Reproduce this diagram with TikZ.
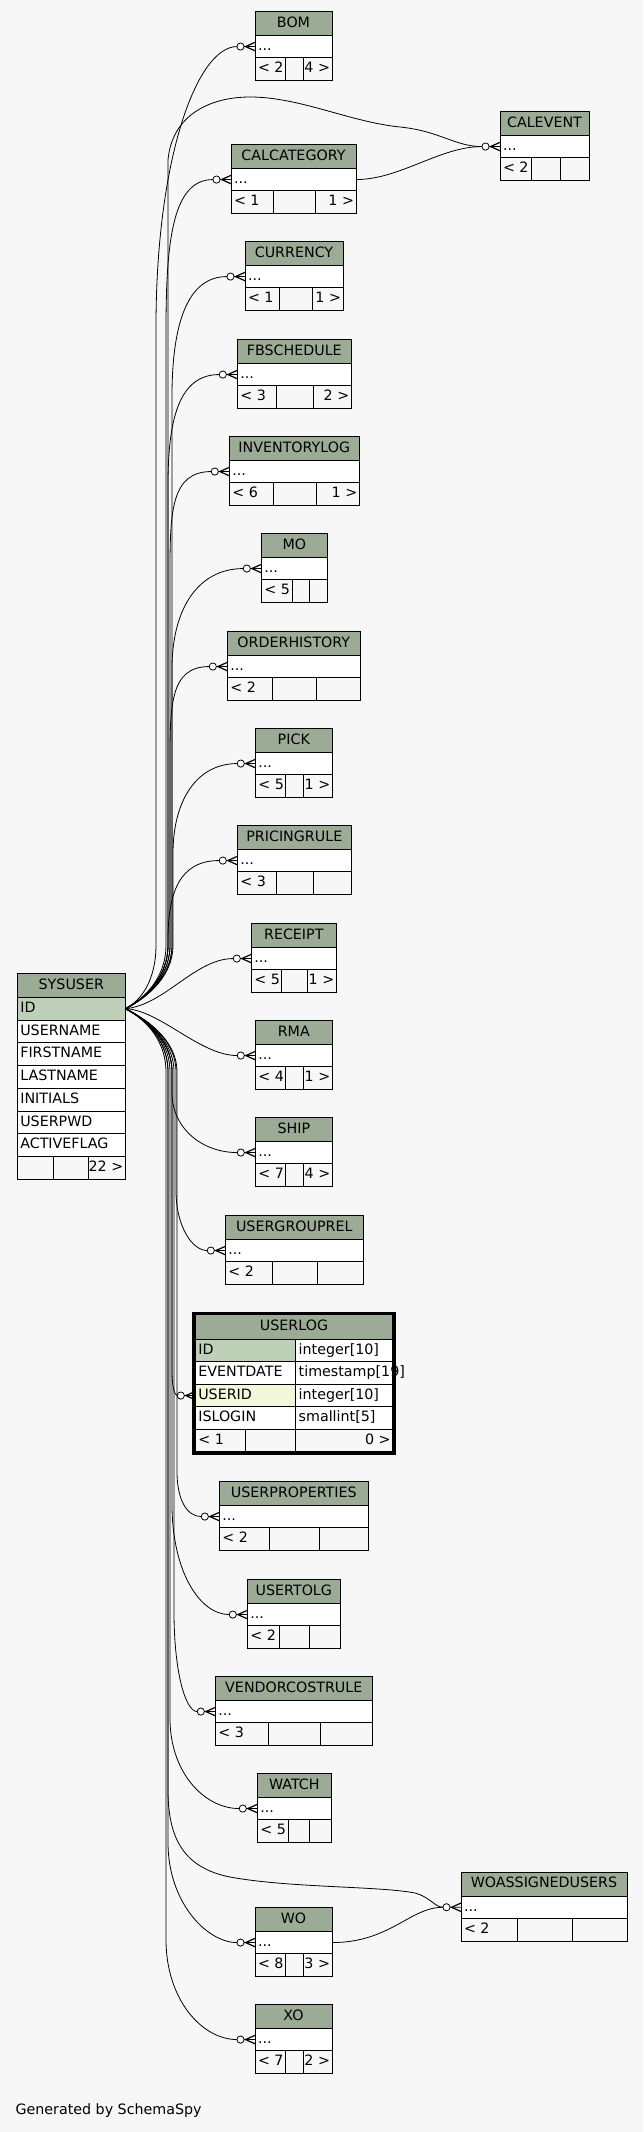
\documentclass[tikz,border=0pt]{standalone}
\usepackage{fontspec}
\setmainfont{DejaVu Sans}
\usetikzlibrary{calc}
\definecolor{bgc}{HTML}{F7F7F7}
\definecolor{hdrc}{HTML}{9BAB96}
\definecolor{pkc}{HTML}{BED1B8}
\definecolor{fkc}{HTML}{F4F7DA}

\newcommand\tbl[9]{%
  \pgfmathsetmacro\tw{#4-#2}%
  \node[cellbox, fill=hdrc, cb={\tw}{24}] (#1-h) at (#2,#3) {};
  \node[txt] at (#1-h.center) {#5};
  \node[cellbox, fill=white, cb={\tw}{22.5}] (#1-r) at (#1-h.south west) {};
  \node[txt, anchor=west] at ($(#1-r.west)+(3,0)$) {...};
  \node[cellbox, cb={\tw}{22.5}] (#1-f) at (#1-r.south west) {};
  \draw[divl] (#6,#3+46.5) -- (#6,#3+69) (#7,#3+46.5) -- (#7,#3+69);
  \node[txt, anchor=west] at ($(#1-f.west)+(3,0)$) {#8};
  \node[txt, anchor=east] at ($(#1-f.east)+(-2,0)$) {#9};
}
\newcommand\crowmark[1]{%
  \draw[line width=0.6pt, fill=white] ($(#1.west)+(-14.5,0)$) circle[radius=3.6];
  \draw[line width=0.9pt] ($(#1.west)+(0,-4.2)$) -- ($(#1.west)+(-9.5,0)$) -- ($(#1.west)+(0,4.2)$);
}
\newcommand\relup[5]{%
  \draw[rel] (sysuser-id.east) .. controls +(16,-8) and +(0,35) .. (#2,945) -- (#2,#3+#4)
    .. controls +(0,-0.6*#4) and +(-#5,0) .. ($(#1.west)+(-18,0)$) -- (#1.west);
  \crowmark{#1}%
}
\newcommand\reldn[5]{%
  \draw[rel] (sysuser-id.east) .. controls +(16,8) and +(0,-35) .. (#2,1072) -- (#2,#3-#4)
    .. controls +(0,0.6*#4) and +(-#5,0) .. ($(#1.west)+(-18,0)$) -- (#1.west);
  \crowmark{#1}%
}

\begin{document}
\begin{tikzpicture}[x=0.75pt,y=-0.75pt,
  txt/.style={font=\fontsize{10.7}{12}\selectfont, inner sep=0pt, outer sep=0pt, text height=7.8pt, text depth=0pt, yshift=1.1pt},
  cellbox/.style={draw=black, line width=0.7pt, anchor=north west, inner sep=0pt, outer sep=0pt},
  cb/.style 2 args={minimum width={#1*0.75pt}, minimum height={#2*0.75pt}},
  rel/.style={draw=black, line width=0.6pt},
  divl/.style={draw=black, line width=0.7pt}]
\useasboundingbox (0,0) rectangle (643,2132);
\fill[bgc] (0,0) rectangle (643,2132);

% SYSUSER
\node[cellbox, fill=hdrc, cb={108}{24}] (sysuser-h) at (17.3,973.3) {};
\node[txt] at (sysuser-h.center) {SYSUSER};
\node[cellbox, fill=pkc, cb={108}{22.75}] (sysuser-id) at (sysuser-h.south west) {};
\node[txt, anchor=west] at ($(sysuser-id.west)+(3,0)$) {ID};
\node[cellbox, fill=white, cb={108}{22.75}] (sysuser-username) at (sysuser-id.south west) {};
\node[txt, anchor=west] at ($(sysuser-username.west)+(3,0)$) {USERNAME};
\node[cellbox, fill=white, cb={108}{22.75}] (sysuser-firstname) at (sysuser-username.south west) {};
\node[txt, anchor=west] at ($(sysuser-firstname.west)+(3,0)$) {FIRSTNAME};
\node[cellbox, fill=white, cb={108}{22.75}] (sysuser-lastname) at (sysuser-firstname.south west) {};
\node[txt, anchor=west] at ($(sysuser-lastname.west)+(3,0)$) {LASTNAME};
\node[cellbox, fill=white, cb={108}{22.75}] (sysuser-initials) at (sysuser-lastname.south west) {};
\node[txt, anchor=west] at ($(sysuser-initials.west)+(3,0)$) {INITIALS};
\node[cellbox, fill=white, cb={108}{22.75}] (sysuser-userpwd) at (sysuser-initials.south west) {};
\node[txt, anchor=west] at ($(sysuser-userpwd.west)+(3,0)$) {USERPWD};
\node[cellbox, fill=white, cb={108}{22.75}] (sysuser-activeflag) at (sysuser-userpwd.south west) {};
\node[txt, anchor=west] at ($(sysuser-activeflag.west)+(3,0)$) {ACTIVEFLAG};
\node[cellbox, cb={108}{22.75}] (sysuser-f) at (sysuser-activeflag.south west) {};
\draw[divl] (53.3,1156.55) -- (53.3,1179.3) (88.7,1156.55) -- (88.7,1179.3);
\node[txt, anchor=east] at ($(sysuser-f.east)+(-2,0)$) {22 >};

% small tables
\tbl{bom}{255}{11.3}{332}{BOM}{285}{303}{< 2}{4 >}
\tbl{calevent}{500}{111.3}{589}{CALEVENT}{531}{560}{< 2}{}
\tbl{calcategory}{231}{144.3}{356}{CALCATEGORY}{273}{315}{< 1}{1 >}
\tbl{currency}{245}{241.3}{343}{CURRENCY}{279}{312}{< 1}{1 >}
\tbl{fbschedule}{237.3}{339.3}{351.3}{FBSCHEDULE}{276.7}{313.3}{< 3}{2 >}
\tbl{inventorylog}{229.3}{436.3}{359.3}{INVENTORYLOG}{273.3}{316.3}{< 6}{1 >}
\tbl{mo}{261.3}{533.3}{327.3}{MO}{292.3}{309.3}{< 5}{}
\tbl{orderhistory}{227.3}{631.3}{360.3}{ORDERHISTORY}{272.3}{316.3}{< 2}{}
\tbl{pick}{255.3}{728.3}{332.3}{PICK}{285.3}{303.3}{< 5}{1 >}
\tbl{pricingrule}{237.3}{825.3}{351.3}{PRICINGRULE}{276.7}{313.3}{< 3}{}
\tbl{receipt}{251.3}{923.3}{336.3}{RECEIPT}{281.3}{307.3}{< 5}{1 >}
\tbl{rma}{255.3}{1020.3}{332.3}{RMA}{285.7}{303.3}{< 4}{1 >}
\tbl{ship}{255.3}{1117.3}{332.3}{SHIP}{285.7}{303.3}{< 7}{4 >}
\tbl{usergrouprel}{225.3}{1215.3}{363.3}{USERGROUPREL}{272.3}{317.3}{< 2}{}
\tbl{userproperties}{219.3}{1481.3}{368.3}{USERPROPERTIES}{269.3}{319.3}{< 2}{}
\tbl{usertolg}{247.3}{1579.3}{340.3}{USERTOLG}{279.3}{309.3}{< 2}{}
\tbl{vendorcostrule}{215.3}{1676.3}{372.3}{VENDORCOSTRULE}{268.3}{320.3}{< 3}{}
\tbl{watch}{257.3}{1773.3}{331.3}{WATCH}{288}{309.5}{< 5}{}
\tbl{woassignedusers}{461}{1872}{627}{WOASSIGNEDUSERS}{517.4}{572.4}{< 2}{}
\tbl{wo}{255}{1907.3}{332}{WO}{285}{303}{< 8}{3 >}
\tbl{xo}{255}{2004.3}{332}{XO}{285}{303}{< 7}{2 >}

% USERLOG (focus table)
\node[cellbox, fill=hdrc, cb={197.4}{24.6}] (userlog-h) at (195.3,1314.7) {};
\node[txt] at (userlog-h.center) {USERLOG};
\node[cellbox, fill=pkc, cb={100.4}{22.5}] (userlog-id) at (userlog-h.south west) {};
\node[cellbox, fill=white, cb={97}{22.5}] (userlog-idt) at (userlog-id.north east) {};
\node[cellbox, fill=white, cb={100.4}{22.5}] (userlog-eventdate) at (userlog-id.south west) {};
\node[cellbox, fill=white, cb={97}{22.5}] (userlog-eventdatet) at (userlog-eventdate.north east) {};
\node[cellbox, fill=fkc, cb={100.4}{22.5}] (userlog-userid) at (userlog-eventdate.south west) {};
\node[cellbox, fill=white, cb={97}{22.5}] (userlog-useridt) at (userlog-userid.north east) {};
\node[cellbox, fill=white, cb={100.4}{22.5}] (userlog-islogin) at (userlog-userid.south west) {};
\node[cellbox, fill=white, cb={97}{22.5}] (userlog-islogint) at (userlog-islogin.north east) {};
\node[cellbox, cb={197.4}{22.5}] (userlog-f) at (userlog-islogin.south west) {};
\draw[divl] (245.7,1429.3) -- (245.7,1451.8) (295.7,1429.3) -- (295.7,1451.8);
\node[txt, anchor=west] at ($(userlog-id.west)+(3,0)$) {ID};
\node[txt, anchor=west] at ($(userlog-idt.west)+(3,0)$) {integer[10]};
\node[txt, anchor=west] at ($(userlog-eventdate.west)+(3,0)$) {EVENTDATE};
\node[txt, anchor=west] at ($(userlog-eventdatet.west)+(3,0)$) {timestamp[19]};
\node[txt, anchor=west] at ($(userlog-userid.west)+(3,0)$) {USERID};
\node[txt, anchor=west] at ($(userlog-useridt.west)+(3,0)$) {integer[10]};
\node[txt, anchor=west] at ($(userlog-islogin.west)+(3,0)$) {ISLOGIN};
\node[txt, anchor=west] at ($(userlog-islogint.west)+(3,0)$) {smallint[5]};
\node[txt, anchor=west] at ($(userlog-f.west)+(3,0)$) {< 1};
\node[txt, anchor=east] at ($(userlog-f.east)+(-2,0)$) {0 >};
\draw[line width=2.25pt] (193.5,1313.2) rectangle (394.2,1453);

% connectors going up
\relup{bom-r}{156}{46.55}{280}{40}
\relup{calcategory-r}{166}{179.55}{150}{40}
\relup{currency-r}{172}{276.55}{120}{40}
\relup{fbschedule-r}{168}{374.55}{110}{40}
\relup{inventorylog-r}{170}{471.55}{100}{40}
\relup{mo-r}{172}{568.55}{100}{45}
\relup{orderhistory-r}{170}{666.55}{100}{40}
\relup{pick-r}{173}{763.55}{90}{40}
\relup{pricingrule-r}{168}{860.55}{80}{40}
\draw[rel] (sysuser-id.east) .. controls (165,1005) and (195,958.55) .. ($(receipt-r.west)+(-18,0)$) -- (receipt-r.west);
\crowmark{receipt-r}
\draw[rel] (sysuser-id.east) .. controls (160,1010) and (200,1055.55) .. ($(rma-r.west)+(-18,0)$) -- (rma-r.west);
\crowmark{rma-r}
\draw[rel] (sysuser-id.east) .. controls +(16,-8) and +(0,35) .. (168,945) -- (168,160)
  .. controls (172,115) and (210,97) .. (250,97)
  .. controls (300,97) and (350,122) .. (400,127)
  .. controls (440,131) and (455,146.55) .. ($(calevent-r.west)+(-18,0)$) -- (calevent-r.west);
\draw[rel] (calcategory-r.east) .. controls (400,179.55) and (440,146.55) .. ($(calevent-r.west)+(-18,0)$);
\crowmark{calevent-r}

% connectors going down
\reldn{ship-r}{172}{1152.55}{60}{35}
\reldn{usergrouprel-r}{176}{1250.55}{60}{15}
\reldn{userlog-userid}{172}{1395.65}{25}{3}
\reldn{userproperties-r}{177}{1516.55}{45}{15}
\reldn{usertolg-r}{172}{1614.55}{110}{30}
\reldn{vendorcostrule-r}{174}{1711.55}{100}{12}
\reldn{watch-r}{170}{1808.55}{90}{35}
\reldn{wo-r}{168}{1942.55}{100}{30}
\reldn{xo-r}{166}{2039.55}{100}{35}
\draw[rel] (sysuser-id.east) .. controls +(16,8) and +(0,-35) .. (168,1072) -- (168,1790)
  .. controls (168,1840) and (185,1868) .. (230,1877)
  .. controls (290,1888) and (380,1886) .. (415,1893)
  .. controls (430,1897) and (435,1907.25) .. ($(woassignedusers-r.west)+(-18,0)$) -- (woassignedusers-r.west);
\draw[rel] (wo-r.east) .. controls (390,1942.55) and (410,1907.25) .. ($(woassignedusers-r.west)+(-18,0)$);
\crowmark{woassignedusers-r}

\node[txt, anchor=west] (gen) at (15.5,2111) {Generated by SchemaSpy};
\end{tikzpicture}
\end{document}
